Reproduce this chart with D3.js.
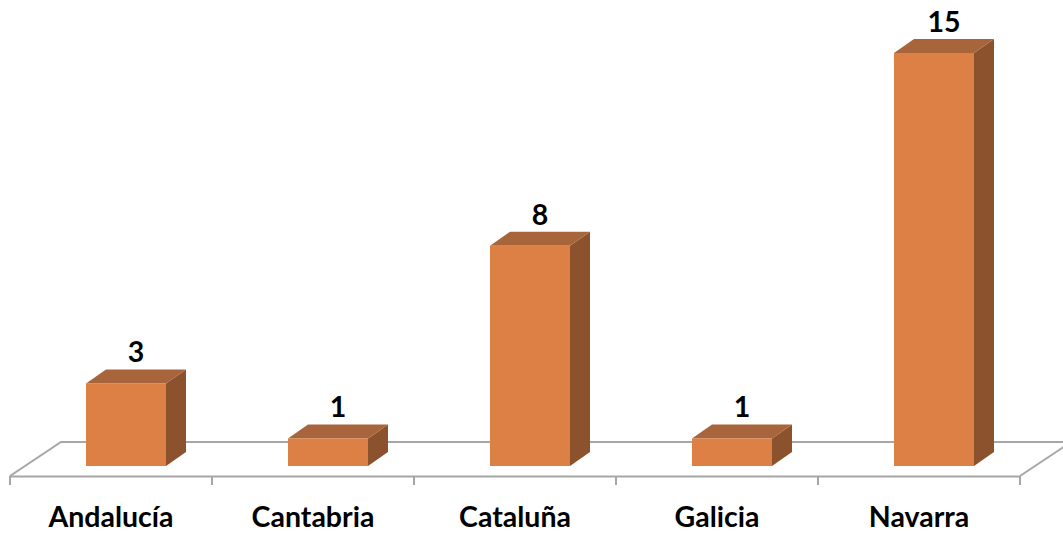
<!DOCTYPE html>
<html>
<head>
<meta charset="utf-8">
<script src="https://cdn.jsdelivr.net/npm/d3@7"></script>
<style>
  html, body { margin: 0; padding: 0; background: #ffffff; }
  svg { display: block; }
</style>
</head>
<body>
<svg id="chart" width="1063" height="535"></svg>
<script>
// Values per region
const categories = ["Andalucía", "Cantabria", "Cataluña", "Galicia", "Navarra"];
const values = [3, 1, 8, 1, 15];

const W = 1063, H = 535;
const svg = d3.select("#chart");

// Floor geometry (front edge of the 3D floor and its depth offset)
const floorLeft = 10, floorRight = 1020, floorFront = 476;
const floorDX = 51, floorDY = -34;

// Bar geometry
const barBase = 466;          // bottom of the bar front face
const barShift = 15;          // front face sits slightly behind floor front edge
const barW = 80, depthX = 20, depthY = -14;

const x = d3.scaleBand().domain(categories).range([floorLeft, floorRight]).padding(0);
const y = d3.scaleLinear().domain([0, 15]).range([barBase, 53]);

const grey = "#a6a6a6";
const colFront = "#dd8046", colTop = "#a8643a", colSide = "#8c522d";
const fontFam = "Lato, 'Open Sans', sans-serif";

// Floor: back edge and side edges
const floor = svg.append("g");
floor.append("path")
  .attr("d", `M${floorLeft},${floorFront} L${floorLeft + floorDX},${floorFront + floorDY} L${floorRight + floorDX},${floorFront + floorDY}`)
  .attr("fill", "none").attr("stroke", grey).attr("stroke-width", 2);
floor.append("path")
  .attr("d", `M${floorRight},${floorFront} L${floorRight + floorDX},${floorFront + floorDY}`)
  .attr("fill", "none").attr("stroke", grey).attr("stroke-width", 2);

// Category axis along the front edge of the floor
const axis = d3.axisBottom(x).tickSize(0).tickPadding(0).tickFormat("");
const axisG = svg.append("g").attr("transform", `translate(0,${floorFront})`).call(axis);
axisG.select(".domain").attr("stroke", grey).attr("stroke-width", 2);
// Tick marks at category boundaries
const bounds = categories.map(c => x(c)).concat([floorRight]);
axisG.selectAll("line.bound").data(bounds).enter().append("line")
  .attr("class", "bound")
  .attr("x1", d => d).attr("x2", d => d)
  .attr("y1", 0).attr("y2", 9)
  .attr("stroke", grey).attr("stroke-width", 2);

// Category labels
svg.append("g").selectAll("text").data(categories).enter().append("text")
  .attr("x", d => x(d) + x.bandwidth() / 2)
  .attr("y", 527)
  .attr("text-anchor", "middle")
  .attr("font-family", fontFam)
  .attr("font-weight", "bold")
  .attr("font-size", 28.5)
  .attr("fill", "#000")
  .text(d => d);

// 3D bars
const bars = svg.append("g").selectAll("g").data(categories.map((c, i) => ({ c, v: values[i] })))
  .enter().append("g");

bars.each(function (d) {
  const g = d3.select(this);
  const x0 = x(d.c) + x.bandwidth() / 2 + barShift - barW / 2;
  const x1 = x0 + barW;
  const yt = y(d.v);
  // side face
  g.append("path")
    .attr("d", `M${x1},${barBase} L${x1 + depthX},${barBase + depthY} L${x1 + depthX},${yt + depthY} L${x1},${yt} Z`)
    .attr("fill", colSide);
  // top face
  g.append("path")
    .attr("d", `M${x0},${yt} L${x0 + depthX},${yt + depthY} L${x1 + depthX},${yt + depthY} L${x1},${yt} Z`)
    .attr("fill", colTop);
  // front face
  g.append("rect")
    .attr("x", x0).attr("y", yt)
    .attr("width", barW).attr("height", barBase - yt)
    .attr("fill", colFront);
  // value label
  g.append("text")
    .attr("x", (x0 + x1) / 2 + 10)
    .attr("y", yt + depthY - 7)
    .attr("text-anchor", "middle")
    .attr("font-family", fontFam)
    .attr("font-weight", "bold")
    .attr("font-size", 28.5)
    .attr("fill", "#000")
    .text(d.v);
});
</script>
</body>
</html>
